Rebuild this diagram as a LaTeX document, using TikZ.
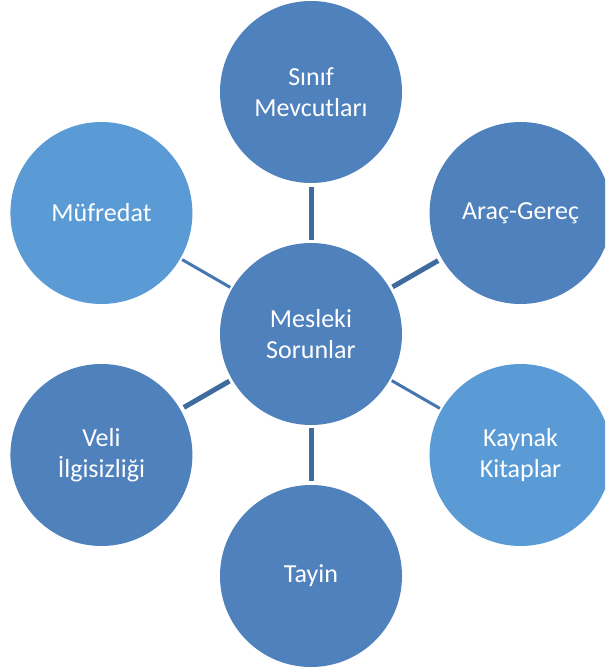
\documentclass[tikz,border=0pt]{standalone}
\usepackage{fontspec}
\setmainfont{Carlito}
\usepackage{tikz}
\usepackage{xcolor}
\usetikzlibrary{positioning}
\definecolor{darkblue}{HTML}{4F81BD}
\definecolor{lightblue}{HTML}{5B9BD5}
\definecolor{spokeblue}{HTML}{3F6C9F}
\definecolor{thinblue}{HTML}{4677B0}
\tikzset{bubble/.style={circle, minimum size=182pt, inner sep=0pt, text=white,
           align=center, font=\fontsize{26}{31}\selectfont},
         dark/.style={bubble, fill=darkblue},
         light/.style={bubble, fill=lightblue},
         spoke/.style={line width=5pt, draw=spokeblue, shorten >=4pt, shorten <=3pt},
         thinspoke/.style={line width=3pt, draw=thinblue, shorten >=2pt, shorten <=2pt}}

\begin{document}
\begin{tikzpicture}
\useasboundingbox (-311pt,-337pt) rectangle (294pt,334pt);
\clip (-311pt,-337pt) rectangle (294pt,334pt);
%
\node[dark] (hub) at (0,0) {Mesleki\\Sorunlar};
\node[dark] (sinif) at (90:242pt) {Sınıf\\Mevcutları};
\node[dark] (arac) at (30:242pt) {Araç-Gereç};
\node[light] (kaynak) at (-30:242pt) {Kaynak\\Kitaplar};
\node[dark] (tayin) at (-90:242pt) {Tayin};
\node[dark] (veli) at (210:242pt) {Veli\\İlgisizliği};
\node[light] (mufredat) at (150:242pt) {Müfredat};

\draw[spoke] (hub) -- (sinif);
\draw[spoke] (hub) -- (arac);
\draw[thinspoke] (hub) -- (kaynak);
\draw[spoke] (hub) -- (tayin);
\draw[spoke] (hub) -- (veli);
\draw[thinspoke] (hub) -- (mufredat);
%
\end{tikzpicture}
\end{document}
